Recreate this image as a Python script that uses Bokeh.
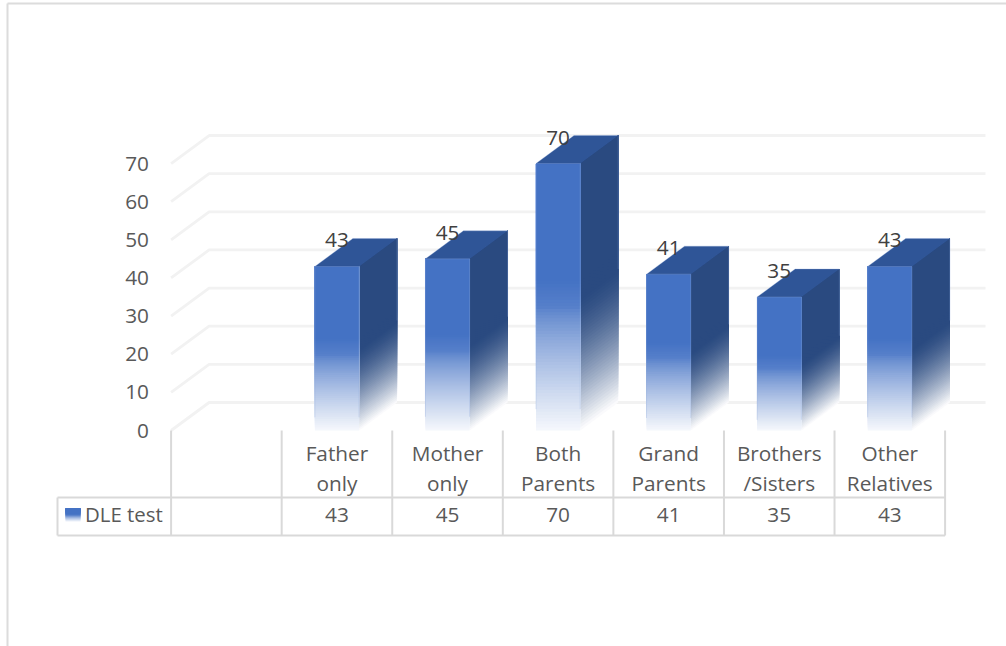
from bokeh.plotting import figure
from bokeh.core.properties import value
from bokeh.embed import file_html
from bokeh.resources import INLINE

# Chart data
categories = ["Father\nonly", "Mother\nonly", "Both\nParents", "Grand\nParents", "Brothers\n/Sisters", "Other\nRelatives"]
dle_test = [43, 45, 70, 41, 35, 43]
value_ticks = [0, 10, 20, 30, 40, 50, 60, 70]
series_name = "DLE test"

# Scale: one category slot across, value units up; the origin sits at the table's left edge
W, H = 1006, 646
X0_PX, Y0_PX = 170.6, 430.0
SLOT_PX, UNIT_PX = 110.57, 3.814
BAR_W = 0.40
DEPTH_X, DEPTH_Y = 38 / SLOT_PX, 28 / UNIT_PX

def px(x):
    return (x - X0_PX) / SLOT_PX

def py(y):
    return (Y0_PX - y) / UNIT_PX

p = figure(width=W, height=H, output_backend="svg", toolbar_location=None,
           x_range=(px(0), px(W)), y_range=(py(H), py(0)), min_border=0)
p.axis.visible = False
p.grid.visible = False
p.outline_line_color = None
p.background_fill_color = "#FFFFFF"
p.border_fill_color = "#FFFFFF"

FONT = value("Open Sans")
SIZE = "20.8px"
TEXT = "#595959"

def mix(rgb, t):
    """Blend a colour towards white by fraction t."""
    r, g, b = [round(c + (255 - c) * t) for c in rgb]
    return f"#{r:02x}{g:02x}{b:02x}"

# Slide frame
p.line([px(7), px(7)], [py(H), py(3)], line_color="#DCDCDC", line_width=2)
p.line([px(7), px(W)], [py(3), py(3)], line_color="#DCDCDC", line_width=2)

# Walls of the 3D plot area
n_slots = len(categories) + 1
for t in value_ticks:
    p.line([0, DEPTH_X, px(985)], [t, t + DEPTH_Y, t + DEPTH_Y],
           line_color="#F2F2F2", line_width=2.8)

# Value labels
p.text([px(148.5)] * len(value_ticks), value_ticks, text=[str(t) for t in value_ticks],
       text_font=FONT, text_font_size=SIZE, text_color=TEXT,
       text_align="right", text_baseline="middle")

# Each face is painted bottom-up: every layer reaches the bar top, so the next
# layer overlaps it and no seams show between the fade steps
FRONT = (0x44, 0x72, 0xC4)
SIDE = (0x2A, 0x4A, 0x80)
TOP = "#2F5597"
EDGE = "#8FAADC"
N = 48
FADE_TOP = 0.56

def front_fade(f):
    # f runs from 0 at the floor to 1 at the top of the bar
    if f >= FADE_TOP:
        return 0.0
    if f >= 0.46:
        return 0.1 * (FADE_TOP - f) / (FADE_TOP - 0.46)
    return 0.1 + 0.85 * ((0.46 - f) / 0.46) ** 0.8

def side_fade(f):
    return 0.0 if f >= 0.5 else 0.99 * (1 - f / 0.5) ** 1.45

for i, v in enumerate(dle_test):
    left = 1.5 + i - BAR_W / 2
    right = left + BAR_W
    xs_f, ys_f, cs_f, xs_s, ys_s, cs_s = [], [], [], [], [], []
    for k in range(N + 1):
        a = FADE_TOP * k / N
        lo = v * a
        xs_f.append([left, right, right, left])
        ys_f.append([lo, lo, v, v])
        cs_f.append(mix(FRONT, front_fade(a + 0.25 / N)))
        xs_s.append([right, right + DEPTH_X, right + DEPTH_X, right])
        ys_s.append([lo, lo + DEPTH_Y, v + DEPTH_Y, v])
        cs_s.append(mix(SIDE, side_fade(a + 0.25 / N)))
    p.patches(xs_s, ys_s, fill_color=cs_s, line_color=None)
    p.patches(xs_f, ys_f, fill_color=cs_f, line_color=None)
    p.patch([left, right, right + DEPTH_X, left + DEPTH_X], [v, v, v + DEPTH_Y, v + DEPTH_Y],
            fill_color=TOP, line_color=None)
    # Soft bevel along the visible edges
    p.line([left, left, right, right], [v * 0.08, v, v, v * 0.08],
           line_color=EDGE, line_alpha=0.3, line_width=1)
    p.line([left, left + DEPTH_X, right + DEPTH_X, right + DEPTH_X],
           [v, v + DEPTH_Y, v + DEPTH_Y, v * 0.5 + DEPTH_Y],
           line_color=EDGE, line_alpha=0.3, line_width=1)

# Value labels over the bars
bar_x = [1.5 + i for i in range(len(dle_test))]
p.text(bar_x, [v + 26 / UNIT_PX for v in dle_test], text=[str(v) for v in dle_test],
       text_font=FONT, text_font_size=SIZE, text_color="#404040",
       text_align="center", text_baseline="middle")

# Data table below the plot
GRID = "#D9D9D9"
row_top, row_bottom = py(497), py(535)
for j in range(n_slots + 1):
    p.line([j, j], [0, row_bottom], line_color=GRID, line_width=2)
p.line([px(57), n_slots], [row_top, row_top], line_color=GRID, line_width=2)
p.line([px(57), n_slots], [row_bottom, row_bottom], line_color=GRID, line_width=2)
p.line([px(57), px(57)], [row_top, row_bottom], line_color=GRID, line_width=2)

for i, cat in enumerate(categories):
    first, second = cat.split("\n")
    p.text([1.5 + i], [py(452)], text=[first], text_font=FONT, text_font_size=SIZE,
           text_color=TEXT, text_align="center", text_baseline="middle")
    p.text([1.5 + i], [py(482)], text=[second], text_font=FONT, text_font_size=SIZE,
           text_color=TEXT, text_align="center", text_baseline="middle")

p.text(bar_x, [py(514)] * len(bar_x), text=[str(v) for v in dle_test],
       text_font=FONT, text_font_size=SIZE, text_color=TEXT,
       text_align="center", text_baseline="middle")

# Legend key inside the table
KEY_N = 13
for k in range(KEY_N - 1, -1, -1):
    f = 1 - (k + 0.5) / KEY_N
    p.quad(left=px(65), right=px(80), top=py(508), bottom=py(509 + k),
           fill_color=mix(FRONT, front_fade(f)), line_color=None)
p.text([px(84.5)], [py(513)], text=[series_name], text_font=FONT, text_font_size="20.4px",
       text_color=TEXT, text_align="left", text_baseline="middle")

open("out.html", "w").write(file_html(p, INLINE))
